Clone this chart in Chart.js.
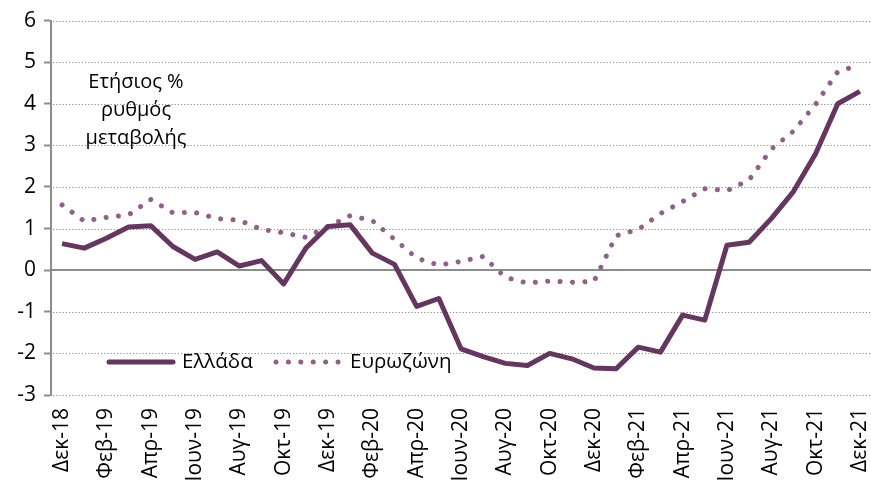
<!DOCTYPE html>
<html>
<head>
<meta charset="utf-8">
<script src="https://cdn.jsdelivr.net/npm/chart.js@4.4.1/dist/chart.umd.min.js"></script>
<style>
  html, body { margin: 0; padding: 0; background: #fff; overflow: hidden; }
  canvas { display: block; }
</style>
</head>
<body>
<canvas id="chart" width="871" height="480"></canvas>
<script>
// Ετήσιος % ρυθμός μεταβολής, Ελλάδα vs Ευρωζώνη (μηνιαία, Δεκ-18 έως Δεκ-21)
const months = [
  'Δεκ-18', 'Ιαν-19', 'Φεβ-19', 'Μαρ-19', 'Απρ-19', 'Μαϊ-19', 'Ιουν-19', 'Ιουλ-19', 'Αυγ-19', 'Σεπ-19', 'Οκτ-19', 'Νοε-19',
  'Δεκ-19', 'Ιαν-20', 'Φεβ-20', 'Μαρ-20', 'Απρ-20', 'Μαϊ-20', 'Ιουν-20', 'Ιουλ-20', 'Αυγ-20', 'Σεπ-20', 'Οκτ-20', 'Νοε-20',
  'Δεκ-20', 'Ιαν-21', 'Φεβ-21', 'Μαρ-21', 'Απρ-21', 'Μαϊ-21', 'Ιουν-21', 'Ιουλ-21', 'Αυγ-21', 'Σεπ-21', 'Οκτ-21', 'Νοε-21',
  'Δεκ-21'
];

const greece = [
  0.64, 0.53, 0.77, 1.04, 1.07, 0.57, 0.26, 0.44, 0.10, 0.23, -0.33, 0.53,
  1.05, 1.09, 0.41, 0.14, -0.87, -0.68, -1.89, -2.08, -2.24, -2.29, -2.00, -2.13,
  -2.35, -2.37, -1.85, -1.97, -1.08, -1.20, 0.60, 0.67, 1.24, 1.89, 2.80, 4.00,
  4.30
];

const eurozone = [
  1.57, 1.18, 1.27, 1.33, 1.70, 1.38, 1.39, 1.24, 1.20, 0.98, 0.90, 0.79,
  1.05, 1.31, 1.19, 0.74, 0.29, 0.12, 0.21, 0.33, -0.17, -0.31, -0.26, -0.29,
  -0.27, 0.83, 0.98, 1.36, 1.65, 1.96, 1.91, 2.17, 2.91, 3.34, 3.99, 4.77,
  4.94
];

const yTicks = [-3, -2, -1, 0, 1, 2, 3, 4, 5, 6];

const seriesNames = ['Ελλάδα', 'Ευρωζώνη'];
const noteLines = ['Ετήσιος %', 'ρυθμός', 'μεταβολής'];

const FONT = '"Open Sans", "Noto Sans", sans-serif';
const GR_COLOR = '#65365f';
const EZ_COLOR = '#916088';
const GRID = '#8c8c8c';

// γραμμή μηδέν, διακεκομμένο πλέγμα, σημείωση και υπόμνημα
const extras = {
  id: 'extras',
  beforeDatasetsDraw(chart) {
    const { ctx, chartArea, scales } = chart;
    ctx.save();
    ctx.strokeStyle = GRID;
    ctx.lineWidth = 1.2;
    ctx.setLineDash([1.2, 2]);
    yTicks.forEach(v => {
      if (v === 0) return;
      const y = Math.round(scales.y.getPixelForValue(v)) + 0.5;
      ctx.beginPath();
      ctx.moveTo(chartArea.left + 2, y);
      ctx.lineTo(chartArea.right, y);
      ctx.stroke();
    });
    ctx.setLineDash([]);
    const y0 = Math.round(scales.y.getPixelForValue(0));
    ctx.lineWidth = 2;
    ctx.beginPath();
    ctx.moveTo(chartArea.left, y0);
    ctx.lineTo(chartArea.right, y0);
    ctx.stroke();
    ctx.restore();
  },
  afterDraw(chart) {
    const { ctx } = chart;
    ctx.save();
    ctx.fillStyle = '#000';
    ctx.font = '20px ' + FONT;
    ctx.textAlign = 'center';
    ctx.textBaseline = 'middle';
    noteLines.forEach((t, i) => ctx.fillText(t, 136, 82 + i * 28));

    // υπόμνημα
    const ly = 362;
    ctx.lineCap = 'round';
    ctx.strokeStyle = GR_COLOR;
    ctx.lineWidth = 5;
    ctx.beginPath();
    ctx.moveTo(109, ly);
    ctx.lineTo(173, ly);
    ctx.stroke();
    ctx.textAlign = 'left';
    ctx.font = '20.5px ' + FONT;
    ctx.fillText(seriesNames[0], 182, ly);

    ctx.strokeStyle = EZ_COLOR;
    ctx.setLineDash([0.01, 12.4]);
    ctx.beginPath();
    ctx.moveTo(276, ly);
    ctx.lineTo(342, ly);
    ctx.stroke();
    ctx.setLineDash([]);
    ctx.fillText(seriesNames[1], 350, ly);
    ctx.restore();
  }
};

new Chart(document.getElementById('chart'), {
  type: 'line',
  data: {
    labels: months,
    datasets: [
      {
        label: seriesNames[0],
        data: greece,
        borderColor: GR_COLOR,
        borderWidth: 5,
        pointRadius: 0,
        tension: 0,
        borderJoinStyle: 'round',
        clip: false
      },
      {
        label: seriesNames[1],
        data: eurozone,
        borderColor: EZ_COLOR,
        borderWidth: 5,
        borderDash: [0.01, 12.4],
        borderCapStyle: 'round',
        pointRadius: 0,
        tension: 0,
        clip: false
      }
    ]
  },
  options: {
    responsive: false,
    animation: false,
    layout: { padding: { top: 18, right: 0, left: 0, bottom: 0 } },
    plugins: {
      legend: { display: false },
      tooltip: { enabled: false }
    },
    scales: {
      x: {
        type: 'category',
        offset: true,
        grid: { display: false, drawTicks: false },
        border: { display: false },
        ticks: {
          autoSkip: false,
          maxRotation: 90,
          minRotation: 90,
          padding: 13,
          color: '#000',
          font: { family: FONT, size: 21 },
          callback: (v, i) => (i % 2 === 0 ? months[i] : '')
        },
        afterFit: s => {
          s.height = 85;
          s.paddingLeft = 0;
          s.paddingRight = 0;
        }
      },
      y: {
        min: -3,
        max: 6,
        afterBuildTicks: s => { s.ticks = yTicks.map(v => ({ value: v })); },
        grid: {
          drawOnChartArea: false,
          tickLength: 7,
          tickColor: GRID,
          tickWidth: 2
        },
        border: { display: true, color: GRID, width: 2 },
        ticks: {
          padding: 8,
          color: '#000',
          font: { family: FONT, size: 21 }
        },
        afterFit: s => { s.width = 51; }
      }
    }
  },
  plugins: [extras]
});
</script>
</body>
</html>
